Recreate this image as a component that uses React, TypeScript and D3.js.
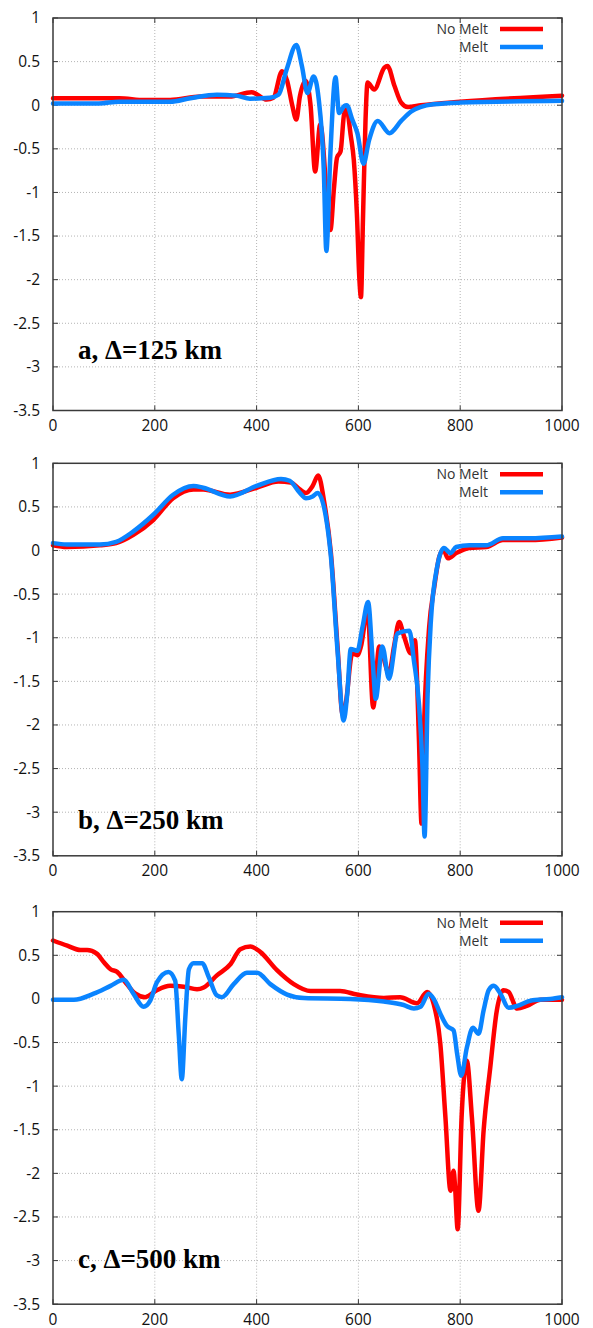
import { scaleLinear, line as d3line, curveMonotoneX } from "d3";

type Pt = [number, number];

// x (km) , value
const aNoMelt: Pt[] = [
  [0, 0.08], [60, 0.08], [130, 0.08], [180, 0.06], [230, 0.06], [290, 0.1], [347, 0.1], [390, 0.15],
  [420, 0.065], [433, 0.085], [450, 0.39], [460, 0.28], [470, 0.0], [478, -0.165], [485, 0.1], [496, 0.28],
  [506, 0.0], [515, -0.76], [525, -0.22], [545, -1.43], [552, -0.95], [558, -0.6], [565, -0.53],
  [572, -0.1], [577, -0.05], [585, -0.35], [591, -0.63], [597, -1.24], [602, -2.0], [605, -2.2],
  [609, -1.3], [614, -0.17], [618, 0.26], [631, 0.18], [651, 0.43], [657, 0.45], [671, 0.22],
  [684, 0.03], [697, -0.02], [723, 0.0], [800, 0.04], [1000, 0.11],
];
const aMelt: Pt[] = [
  [0, 0.02], [90, 0.02], [130, 0.04], [230, 0.04], [270, 0.08], [322, 0.12], [360, 0.11], [387, 0.075],
  [426, 0.085], [443, 0.12], [459, 0.41], [478, 0.69], [489, 0.45], [500, 0.14], [512, 0.33], [522, 0.07],
  [532, -0.74], [537, -1.67], [545, -0.55], [555, 0.32], [562, -0.09], [572, -0.01], [577, 0.0],
  [588, -0.165], [598, -0.32], [610, -0.67], [621, -0.4], [638, -0.18], [661, -0.32], [684, -0.18],
  [704, -0.07], [723, -0.02], [747, 0.01], [800, 0.03], [1000, 0.05],
];

const bNoMelt: Pt[] = [
  [0, 0.06], [27, 0.04], [92, 0.06], [124, 0.085], [158, 0.18], [197, 0.35], [236, 0.6], [276, 0.7],
  [295, 0.7], [348, 0.64], [400, 0.72], [443, 0.79], [467, 0.78], [485, 0.7], [497, 0.66], [510, 0.74],
  [521, 0.86], [533, 0.55], [546, -0.03], [559, -1.1], [569, -1.88], [575, -1.76], [588, -1.18],
  [598, -1.2], [605, -1.1], [618, -0.68], [629, -1.8], [641, -1.1], [647, -1.18], [660, -1.41],
  [670, -1.1], [680, -0.82], [690, -0.99], [703, -1.18], [711, -1.03], [719, -2.18], [724, -3.13],
  [729, -2.0], [739, -0.88], [749, -0.42], [759, -0.07], [767, 0.01], [776, -0.09], [792, -0.03],
  [818, 0.03], [851, 0.04], [884, 0.12], [936, 0.12], [1000, 0.15],
];
const bMelt: Pt[] = [
  [0, 0.085], [27, 0.07], [92, 0.07], [124, 0.1], [158, 0.22], [197, 0.41], [236, 0.64], [276, 0.74],
  [295, 0.72], [348, 0.62], [400, 0.74], [448, 0.82], [465, 0.8], [485, 0.66], [497, 0.6], [510, 0.62],
  [520, 0.66], [536, 0.39], [546, -0.07], [559, -1.15], [571, -1.95], [578, -1.65], [585, -1.13],
  [598, -1.15], [608, -0.88], [619, -0.59], [628, -1.26], [634, -1.7], [647, -1.1], [660, -1.47],
  [677, -0.95], [700, -0.92], [709, -1.26], [719, -1.76], [726, -2.5], [730, -3.28], [736, -1.65],
  [742, -0.84], [755, -0.18], [768, 0.03], [781, -0.03], [792, 0.04], [818, 0.06], [851, 0.06],
  [884, 0.14], [936, 0.14], [1000, 0.16],
];

const cNoMelt: Pt[] = [
  [0, 0.67], [28, 0.61], [54, 0.56], [67, 0.56], [86, 0.52], [100, 0.42], [113, 0.34], [126, 0.31],
  [145, 0.17], [162, 0.06], [181, 0.02], [204, 0.1], [230, 0.15], [257, 0.14], [283, 0.11], [296, 0.13],
  [322, 0.27], [349, 0.4], [368, 0.57], [388, 0.6], [407, 0.54], [440, 0.33], [473, 0.17], [506, 0.09],
  [564, 0.09], [597, 0.05], [650, 0.01], [682, 0.02], [715, -0.05], [735, 0.08], [748, -0.06],
  [761, -0.52], [771, -1.36], [781, -2.2], [787, -1.97], [790, -2.16], [795, -2.64], [803, -1.32],
  [813, -0.71], [823, -1.36], [836, -2.43], [846, -1.51], [859, -0.79], [872, -0.13], [885, 0.1],
  [895, 0.08], [912, -0.11], [931, -0.08], [958, -0.01], [1000, -0.01],
];
const cMelt: Pt[] = [
  [0, -0.01], [41, -0.01], [80, 0.06], [113, 0.15], [139, 0.22], [158, 0.06], [178, -0.09], [191, -0.02],
  [204, 0.19], [227, 0.31], [240, 0.21], [247, -0.4], [253, -0.92], [260, -0.21], [267, 0.34], [276, 0.41],
  [293, 0.41], [306, 0.25], [322, 0.04], [332, 0.02], [355, 0.17], [381, 0.3], [401, 0.3], [427, 0.17],
  [460, 0.05], [493, 0.01], [584, 0.0], [650, -0.03], [689, -0.07], [709, -0.11], [722, -0.09],
  [738, 0.06], [748, 0.0], [761, -0.17], [774, -0.31], [787, -0.36], [794, -0.63], [802, -0.88],
  [813, -0.56], [825, -0.33], [836, -0.4], [846, -0.13], [856, 0.1], [866, 0.15], [879, 0.06],
  [895, -0.1], [912, -0.08], [938, -0.02], [977, 0.0], [1000, 0.02],
];

const xTicks = [0, 200, 400, 600, 800, 1000];
const yTicks = [1, 0.5, 0, -0.5, -1, -1.5, -2, -2.5, -3, -3.5];
const seriesNames = ["No Melt", "Melt"];
const panelLabels = ["a, Δ=125 km", "b, Δ=250 km", "c, Δ=500 km"];

const W = 593;
const H = 1328;
const LEFT = 53;
const RIGHT = 562;
const PANEL_H = 392.5;
const TOPS = [18, 463.3, 911.7];
const LABEL_Y = [350, 820, 1259];
const RED = "#ff0000";
const BLUE = "#0a84ff";
const AXIS = "#3a3a3a";
const FONT = "'Open Sans', 'DejaVu Sans', sans-serif";

function Panel({ top, noMelt, melt, label, labelY }: { top: number; noMelt: Pt[]; melt: Pt[]; label: string; labelY: number }) {
  const x = scaleLinear().domain([0, 1000]).range([LEFT, RIGHT]);
  const y = scaleLinear().domain([-3.5, 1]).range([top + PANEL_H, top]);
  const gen = d3line<Pt>()
    .x((d) => x(d[0]))
    .y((d) => y(d[1]))
    .curve(curveMonotoneX);
  const bottom = top + PANEL_H;

  return (
    <g>
      {/* grid */}
      {xTicks.slice(1, -1).map((t) => (
        <line key={"gx" + t} x1={x(t)} x2={x(t)} y1={top} y2={bottom} stroke="#b4b4b4" strokeWidth={1} strokeDasharray="1,2" />
      ))}
      {yTicks.slice(1, -1).map((t) => (
        <line key={"gy" + t} x1={LEFT} x2={RIGHT} y1={y(t)} y2={y(t)} stroke="#b4b4b4" strokeWidth={1} strokeDasharray="1,2" />
      ))}

      {/* tick marks, mirrored */}
      {xTicks.map((t) => (
        <g key={"tx" + t}>
          <line x1={x(t)} x2={x(t)} y1={bottom} y2={bottom - 5} stroke={AXIS} strokeWidth={1} />
          <line x1={x(t)} x2={x(t)} y1={top} y2={top + 5} stroke={AXIS} strokeWidth={1} />
          <text x={x(t)} y={bottom + 15} dy="0.35em" textAnchor="middle" fontSize={15.5} fill="#111" fontFamily={FONT}>
            {t}
          </text>
        </g>
      ))}
      {yTicks.map((t) => (
        <g key={"ty" + t}>
          <line x1={LEFT} x2={LEFT + 5} y1={y(t)} y2={y(t)} stroke={AXIS} strokeWidth={1} />
          <line x1={RIGHT} x2={RIGHT - 5} y1={y(t)} y2={y(t)} stroke={AXIS} strokeWidth={1} />
          <text x={40} y={y(t)} dy="0.35em" textAnchor="end" fontSize={15.5} fill="#111" fontFamily={FONT}>
            {String(t)}
          </text>
        </g>
      ))}

      {/* series */}
      <path d={gen(noMelt) ?? ""} fill="none" stroke={RED} strokeWidth={4.5} strokeLinejoin="round" strokeLinecap="round" />
      <path d={gen(melt) ?? ""} fill="none" stroke={BLUE} strokeWidth={4.5} strokeLinejoin="round" strokeLinecap="round" />

      {/* frame */}
      <rect x={LEFT} y={top} width={RIGHT - LEFT} height={PANEL_H} fill="none" stroke={AXIS} strokeWidth={1.5} />

      {/* legend */}
      {seriesNames.map((name, i) => (
        <g key={name}>
          <text x={488} y={top + 11 + i * 18} dy="0.35em" textAnchor="end" fontSize={14} fill="#333" fontFamily={FONT}>
            {name}
          </text>
          <line x1={500} x2={543} y1={top + 11 + i * 18} y2={top + 11 + i * 18} stroke={i === 0 ? RED : BLUE} strokeWidth={4.5} />
        </g>
      ))}

      <text x={78} y={labelY} dy="0.35em" fontSize={27} fontWeight="bold" fontFamily="'Liberation Serif', 'Times New Roman', serif" fill="#000">
        {label}
      </text>
    </g>
  );
}

export default function App() {
  const data: [Pt[], Pt[]][] = [
    [aNoMelt, aMelt],
    [bNoMelt, bMelt],
    [cNoMelt, cMelt],
  ];
  return (
    <div style={{ position: "absolute", left: 0, top: 0, width: W, height: H, background: "#fff" }}>
      <svg width={W} height={H} viewBox={`0 0 ${W} ${H}`} style={{ display: "block" }}>
        <rect width={W} height={H} fill="#fff" />
        {TOPS.map((top, i) => (
          <Panel key={i} top={top} noMelt={data[i][0]} melt={data[i][1]} label={panelLabels[i]} labelY={LABEL_Y[i]} />
        ))}
      </svg>
    </div>
  );
}
